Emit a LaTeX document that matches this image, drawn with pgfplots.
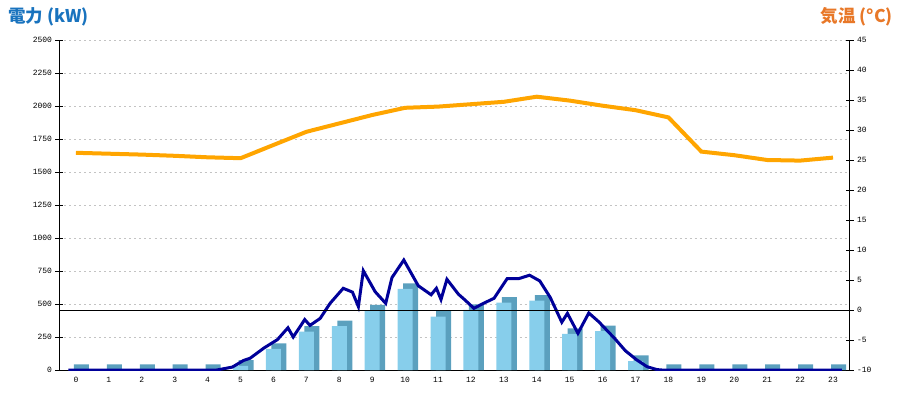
\documentclass[border=0pt]{standalone}
\usepackage{pgfplots}
\usepackage{pgfplotstable}
\pgfplotsset{compat=1.18}
\usepackage{fontspec}
\setmainfont{Liberation Sans}
\setmonofont{Liberation Mono}
\newfontfamily\cjk{Noto Sans CJK JP}
\definecolor{barfront}{RGB}{135,206,235}
\definecolor{barside}{RGB}{91,160,190}
\definecolor{navyline}{RGB}{0,0,153}
\definecolor{templine}{RGB}{255,165,0}
\definecolor{titleblue}{RGB}{25,115,190}
\definecolor{titleorange}{RGB}{232,120,40}
\definecolor{gridgray}{RGB}{195,195,195}

\pgfplotstableread{
h kw
0 0
1 0
2 0
3 0
4 0
5 32
6 160
7 290
8 333
9 452
10 614
11 404
12 455
13 510
14 525
15 273
16 295
17 68
18 0
19 0
20 0
21 0
22 0
23 0
}\bars

\pgfplotstableread{
h t
0 26.2
1 26.05
2 25.9
3 25.7
4 25.45
5 25.3
6 27.5
7 29.7
8 31.1
9 32.5
10 33.7
11 33.9
12 34.3
13 34.7
14 35.55
15 34.9
16 34.05
17 33.3
18 32.1
19 26.4
20 25.8
21 25.0
22 24.9
23 25.4
}\temps

\begin{document}
\begin{tikzpicture}
\useasboundingbox (-59.5pt,-30pt) rectangle (840.5pt,370pt);
\pgfplotsset{
  base/.style={
    scale only axis, width=790pt, height=330pt,
    xmin=-0.5, xmax=23.5,
    /pgf/number format/assume math mode=true,
    /pgf/number format/1000 sep={},
    tick label style={font=\ttfamily\fontsize{8}{8}\selectfont},
    axis line style={-, line width=1pt, black},
    tick align=center, major tick length=8pt,
    every tick/.style={black, line width=1pt},
  }
}
\begin{axis}[base,
  ymin=0, ymax=2500, ytick={0,250,...,2500},
  axis x line*=bottom, axis y line*=left,
  xtick={0,...,23}, x tick style={draw=none},
  xticklabel style={yshift=0pt},
  ymajorgrids, major grid style={gridgray, line width=1pt, dash pattern=on 2pt off 3pt},
]
\addplot[ybar, bar width=15pt, bar shift=5.5pt, fill=barside, draw=none] table[x=h, y expr=\thisrow{kw}+42] {\bars};
\addplot[ybar, bar width=15pt, bar shift=0pt, fill=barfront, draw=none] table[x=h, y=kw] {\bars};
\addplot[navyline, line width=3pt, no markers] coordinates {
(-0.23,0) (4.28,0) (4.75,22) (5.09,72) (5.29,89) (5.72,168) (6.12,230) (6.44,320) (6.6,250) (6.95,382) (7.11,338) (7.42,391) (7.72,505) (8.12,619) (8.4,590) (8.58,480) (8.73,752) (9.09,593) (9.41,505) (9.6,700) (9.96,833) (10.4,638) (10.79,570) (10.95,619) (11.09,534) (11.27,687) (11.62,574) (11.82,530) (12.09,467) (12.38,505) (12.7,543) (13.1,692) (13.45,692) (13.78,718) (14.09,675) (14.41,549) (14.76,362) (14.93,429) (15.25,278) (15.58,432) (15.88,366) (16.38,235) (16.69,146) (17.04,76) (17.35,25) (17.65,3) (17.8,0) (23.27,0)
};
\end{axis}
\begin{axis}[base,
  ymin=-10, ymax=45, ytick={-10,-5,...,45},
  axis y line*=right, axis x line=none,
  extra y ticks={0}, extra y tick labels={},
  extra y tick style={ymajorgrids=true, major grid style={black, solid, line width=1pt}},
  yticklabel style={anchor=west},
]
\addplot[templine, line width=4pt, no markers] table[x=h, y=t] {\temps};
\end{axis}
\node[anchor=west, inner sep=0pt, text=titleblue, font=\cjk\bfseries\fontsize{17.5}{17.5}\selectfont] at (-51.5pt,353.5pt) {電力 (kW)};
\node[anchor=east, inner sep=0pt, text=titleorange, font=\cjk\bfseries\fontsize{17.5}{17.5}\selectfont] at (833.5pt,353.5pt) {気温 (°C)};
\end{tikzpicture}
\end{document}
